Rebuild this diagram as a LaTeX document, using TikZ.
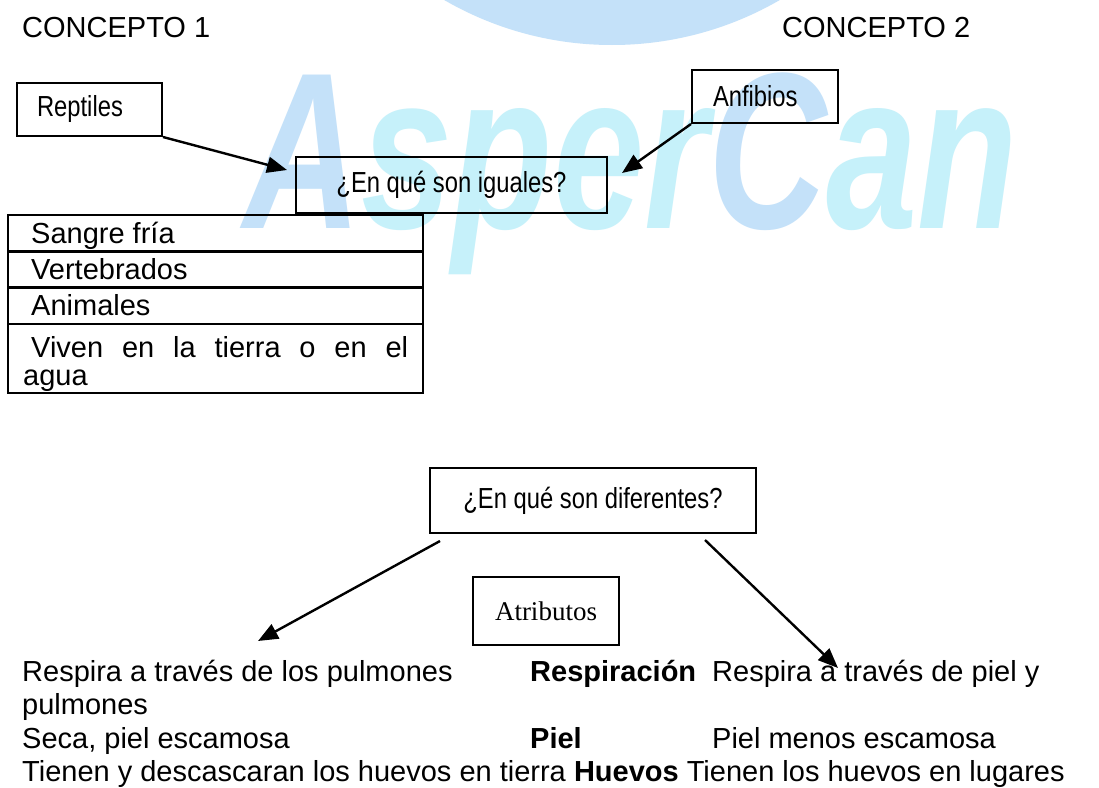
\documentclass[tikz,border=0pt]{standalone}
\usepackage{fontspec}
\usepackage{graphicx}
\setmainfont{Liberation Sans}
\newfontfamily\narrowfont[FakeStretch=0.82]{Liberation Sans}
\newfontfamily\timesfont{Liberation Serif}
\usetikzlibrary{arrows.meta}
\definecolor{wmblue}{RGB}{196,225,249}
\definecolor{wmcyan}{RGB}{198,241,250}
\begin{document}
\begin{tikzpicture}[x=1pt,y=-1pt,
  body/.style={font=\fontsize{29}{33.35}\selectfont, inner sep=0pt, anchor=base west},
  bodyb/.style={body, font=\fontsize{29}{33.35}\selectfont\bfseries},
  nbox/.style={draw, line width=2pt, font=\narrowfont\fontsize{29}{33}\selectfont, inner ysep=0pt},
  lbox/.style={nbox, align=left},
  rowbox/.style={draw, line width=2.2pt, anchor=north west, minimum width=415pt, inner sep=0pt, outer sep=0pt},
  arr/.style={line width=2.4pt, -{Triangle[length=20pt,width=16pt]}},
]
\useasboundingbox (0,0) rectangle (1099,787);
\fill[white] (0,0) rectangle (1099,787);
% watermark
\begin{scope}
\clip (0,0) rectangle (1099,787);
\fill[wmblue] (612,-290) circle[radius=335pt];
\node[anchor=base west, inner sep=0pt, font=\fontsize{164}{164}\selectfont\bfseries\itshape] (wm) at (243,228)
  {\scalebox{1}[1.36]{\color{wmblue}A\color{wmcyan}sper\color{wmblue}C\color{wmcyan}an}};
\end{scope}
% headings
\node[body] (c1) at (22,37) {CONCEPTO 1};
\node[body] (c2) at (782,37) {CONCEPTO 2};
% boxes
\node[lbox, text width=105pt, inner xsep=20pt, minimum height=53pt] (rep) at (89.5,109.5) {Reptiles};
\node[lbox, text width=104pt, inner xsep=21pt, minimum height=53pt] (anf) at (765,96.5) {Anfibios};
\node[nbox, minimum width=311pt, minimum height=56pt] (igu) at (451.5,185) {¿En qué son iguales?};
\node[nbox, minimum width=326pt, minimum height=65pt] (dif) at (593,500.5) {¿En qué son diferentes?};
\node[draw, line width=2pt, font=\timesfont\fontsize{27}{30}\selectfont, minimum width=146pt, minimum height=68pt] (atr) at (546,611) {Atributos};
% arrows
\coordinate (repTip) at (287,170);
\draw[arr] (rep.south east) -- (repTip);
\coordinate (anfTip) at (622,173);
\draw[arr] (anf.south west) -- (anfTip);
\coordinate (difL) at (440,541);
\coordinate (difLTip) at (258,641);
\draw[arr] (difL) -- (difLTip);
\coordinate (difR) at (705,540);
\coordinate (difRTip) at (838,668);
\draw[arr] (difR) -- (difRTip);
% table
\node[rowbox, minimum height=36.4pt] (row1) at (8,215) {};
\node[rowbox, minimum height=36.1pt] (row2) at (8,251.4) {};
\node[rowbox, minimum height=36.1pt] (row3) at (8,287.5) {};
\node[rowbox, minimum height=69.4pt] (row4) at (8,323.6) {};
\node[body] (t1) at (23,243.5) {\hspace*{8pt}Sangre fría};
\node[body] (t2) at (23,279.5) {\hspace*{8pt}Vertebrados};
\node[body] (t3) at (23,315.5) {\hspace*{8pt}Animales};
\node[body] (t4) at (23,357) {\hspace*{8pt}\makebox[377pt][s]{Viven en la tierra o en el}};
\node[body] (t5) at (23,385) {agua};
% bottom attributes
\node[body] (l1a) at (22,681.5) {Respira a través de los pulmones};
\node[bodyb] (l1b) at (530,681.5) {Respiración};
\node[body] (l1c) at (712,681.5) {Respira a través de piel y};
\node[body] (l2a) at (22,714.8) {pulmones};
\node[body] (l3a) at (22,748.2) {Seca, piel escamosa};
\node[bodyb] (l3b) at (530,748.2) {Piel};
\node[body] (l3c) at (712,748.2) {Piel menos escamosa};
\node[body] (l4) at (22,781.5) {Tienen y descascaran los huevos en tierra \textbf{Huevos} Tienen los huevos en lugares};
\end{tikzpicture}
\end{document}
